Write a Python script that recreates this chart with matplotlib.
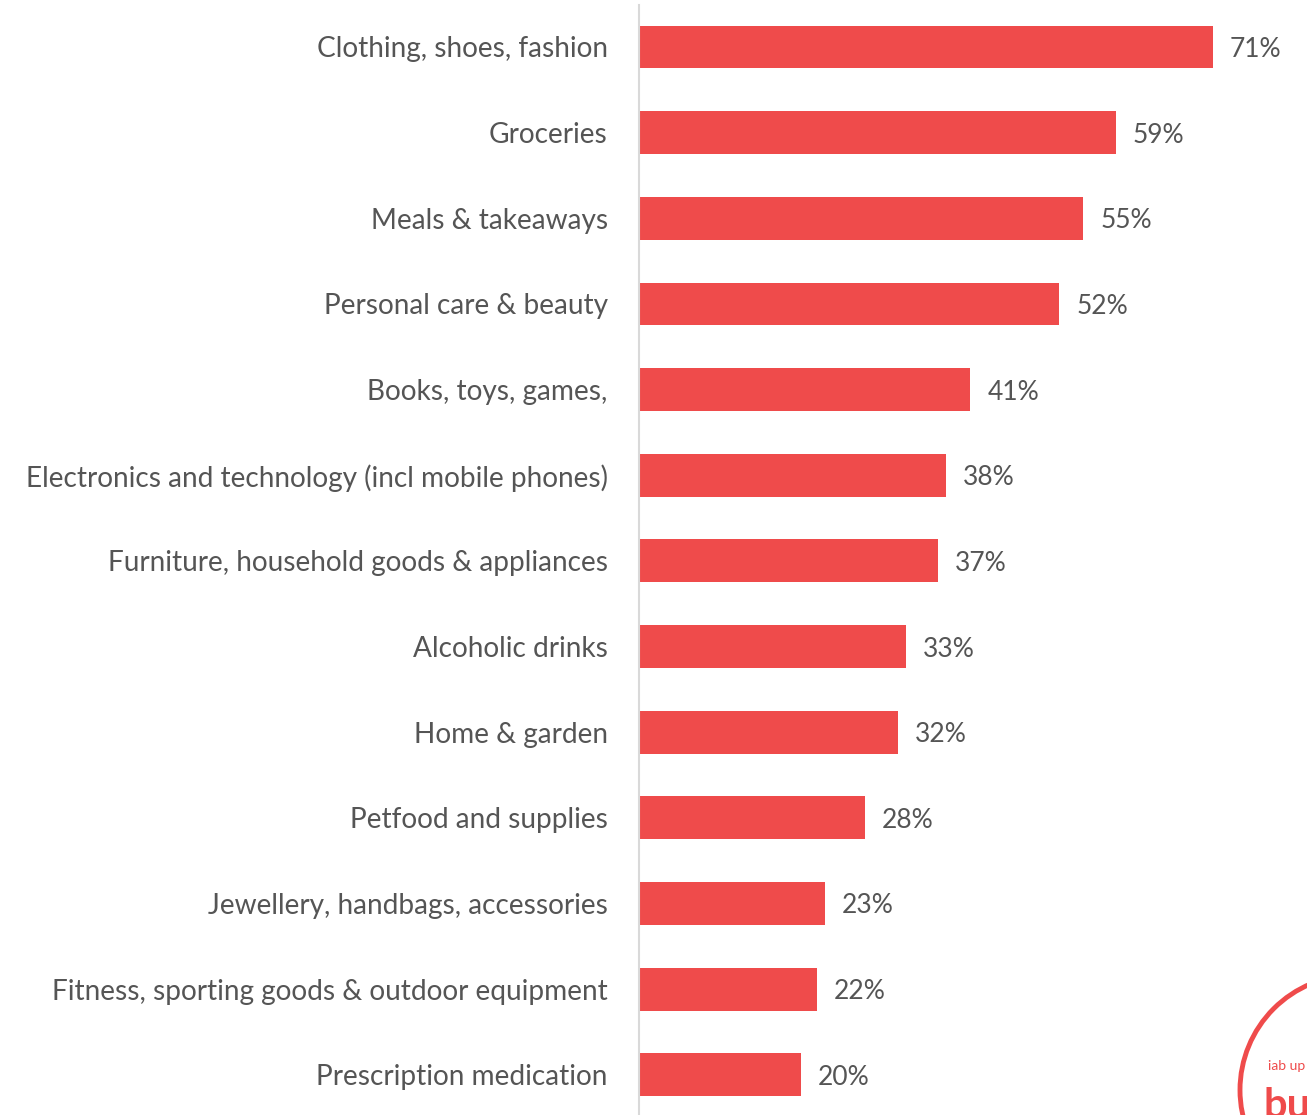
import matplotlib
matplotlib.use("Agg")
from matplotlib import pyplot as plt
from matplotlib.patches import Circle

categories = [
    "Clothing, shoes, fashion",
    "Groceries",
    "Meals & takeaways",
    "Personal care & beauty",
    "Books, toys, games,",
    "Electronics and technology (incl mobile phones)",
    "Furniture, household goods & appliances",
    "Alcoholic drinks",
    "Home & garden",
    "Petfood and supplies",
    "Jewellery, handbags, accessories",
    "Fitness, sporting goods & outdoor equipment",
    "Prescription medication",
]
values = [71, 59, 55, 52, 41, 38, 37, 33, 32, 28, 23, 22, 20]

RED = "#EF4B4B"
GREY = "#555555"
W, H = 1307, 1115

plt.rcParams['font.family'] = ['Lato', 'DejaVu Sans']

fig = plt.figure(figsize=(W / 100, H / 100), dpi=100)
ax = fig.add_axes([639 / W, 0, (W - 639) / W, 1110 / H])

y = list(range(len(categories)))
ax.barh(y, values, height=0.5, color=RED)
ax.set_xlim(0, (W - 639) / 8.08)
ax.set_ylim(12.47, -0.49)

for yi, v in zip(y, values):
    ax.text(v + 2.1, yi, f"{v}%", va="center_baseline", ha="left", fontsize=19, color=GREY)

ax.set_yticks(y)
ax.set_yticklabels(categories, fontsize=20.2, color=GREY, va="center_baseline")
ax.tick_params(axis="y", length=0, pad=22.5)
ax.set_xticks([])
for s in ["top", "right", "bottom"]:
    ax.spines[s].set_visible(False)
ax.spines["left"].set_color("#d9d9d9")
ax.spines["left"].set_linewidth(1.5)

# partial logo in the bottom right corner (cut off by the edge, as in the source)
ov = fig.add_axes([0, 0, 1, 1], facecolor="none")
ov.set_xlim(0, W)
ov.set_ylim(H, 0)
ov.axis("off")
ov.add_patch(Circle((1355, 1090), 115, fill=False, edgecolor=RED, linewidth=3.5))
ov.text(1268, 1066, "iab up", color=RED, fontsize=10, va="center", ha="left")
ov.text(1263, 1118, "bu", color=RED, fontsize=30, fontweight="bold", va="baseline", ha="left")

fig.savefig("out.png", dpi=100)
